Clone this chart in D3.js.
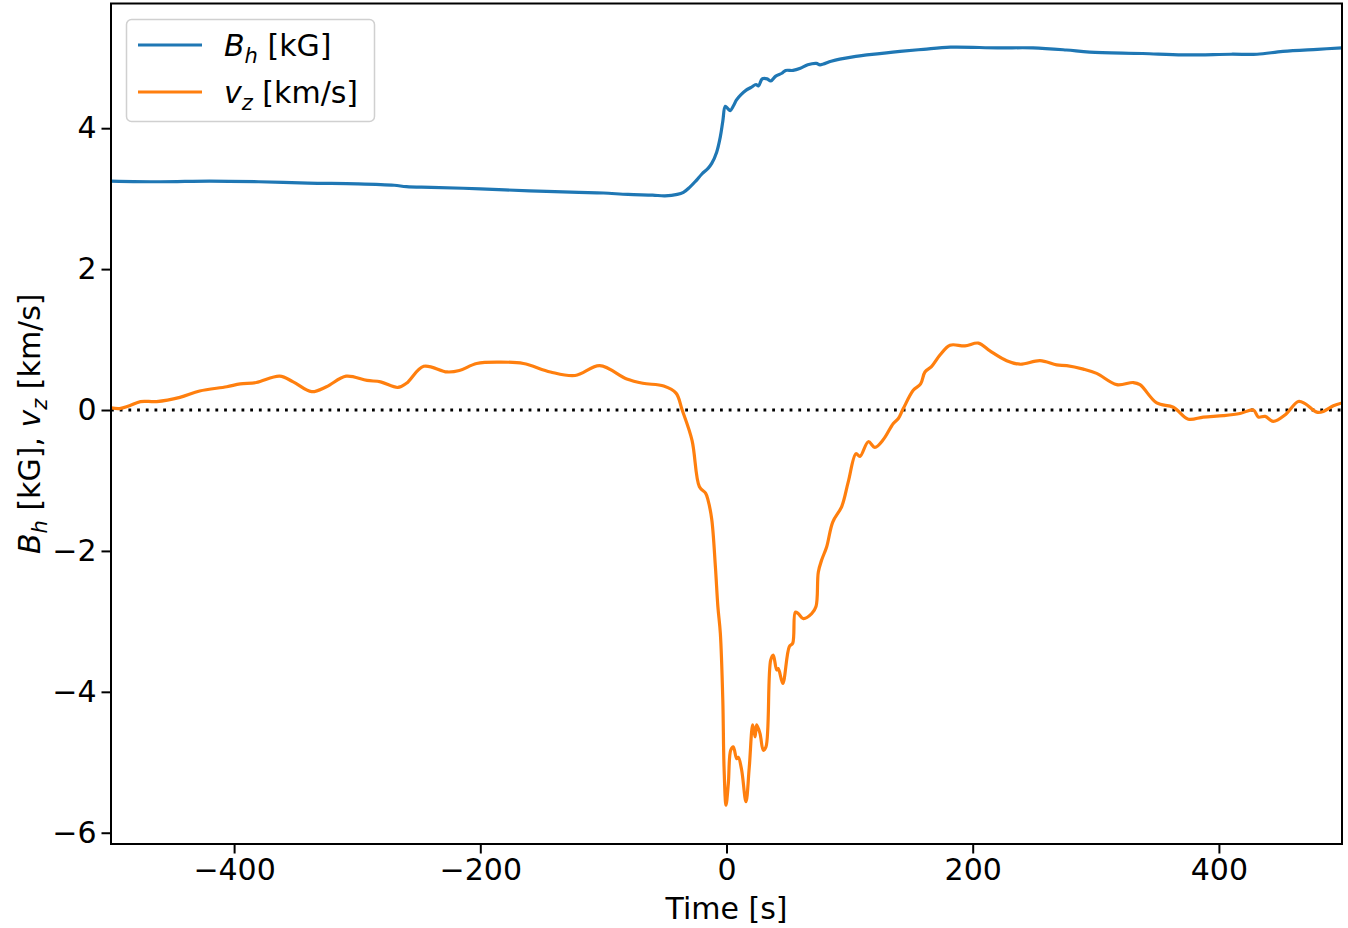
<!DOCTYPE html>
<html>
<head>
<meta charset="utf-8">
<script src="https://cdn.jsdelivr.net/npm/d3@7"></script>
<style>
  body { margin: 0; background: #fff; }
  svg { font-family: 'DejaVu Sans', sans-serif; }
</style>
</head>
<body>
<div id="chart"></div>
<script>
// DATA
var bhTime = [-500, -460, -420, -380, -340, -300, -270, -260, -240, -200, -160, -120, -100, -80, -60, -50,
	-40, -35, -30, -25, -20, -15, -12, -8, -5, -3, -1, 1, 3, 6, 8, 12, 16, 20, 24, 26, 29, 33, 36, 40,
	45, 48, 54, 60, 66, 73, 76, 85, 92, 105, 114, 130, 141, 160, 182, 220, 249, 276, 295, 338, 371,
	410, 431, 452, 480, 500];
var bhValue = [3.25, 3.24, 3.25, 3.24, 3.22, 3.21, 3.19, 3.17, 3.16, 3.14, 3.11, 3.09, 3.08, 3.06, 3.05, 3.04,
	3.06, 3.09, 3.16, 3.25, 3.35, 3.43, 3.50, 3.66, 3.88, 4.10, 4.31, 4.28, 4.25, 4.33, 4.40, 4.48, 4.54, 4.58, 4.62, 4.60, 4.70, 4.70, 4.67, 4.74,
	4.78, 4.82, 4.82, 4.85, 4.90, 4.92, 4.90, 4.95, 4.98, 5.02, 5.04, 5.07, 5.09, 5.12, 5.15, 5.14, 5.14, 5.11, 5.08, 5.06, 5.04,
	5.05, 5.05, 5.09, 5.12, 5.14];

var vzTime = [-500, -493, -485, -476, -463, -444, -428, -406, -395, -382, -363, -352, -337, -325, -309, -292,
	-281, -267, -260, -246, -227, -217, -203, -184, -165, -143, -123, -103, -81, -68, -51, -41, -36, -28,
	-22, -17, -15, -12, -9, -7, -5, -3, -2, -0.4, 1.5, 3.4, 5.5, 8.3, 9.6, 12.3, 15.8, 18.5, 21.3, 23.2,
	24.5, 27.2, 29.9, 32.1, 35.9, 38, 40.8, 42.1, 45.7, 51, 53.8, 55.9, 58.3, 62.4, 69.2, 72.7, 74.6,
	77.3, 81.4, 86.3, 93.6, 98.9, 105.2, 108.4, 115.2, 120.6, 127.4, 135.5, 139.6, 143.6, 151.7, 157.7,
	161.2, 166.7, 173.4, 181.6, 193.7, 204.6, 214, 227.6, 238.4, 254.7, 268.2, 276.4, 289.9, 300.7, 317,
	330.5, 335.9, 349.5, 363, 375.2, 387.3, 403.6, 417.1, 428, 432, 437.5, 444.2, 453.7, 464.5, 470,
	479.5, 484.9, 493, 500];
var vzValue = [0.03, 0.02, 0.06, 0.12, 0.12, 0.18, 0.27, 0.33, 0.37, 0.39, 0.48, 0.40, 0.26, 0.33, 0.48, 0.42,
	0.40, 0.32, 0.38, 0.62, 0.54, 0.56, 0.66, 0.68, 0.66, 0.54, 0.49, 0.63, 0.44, 0.38, 0.34, 0.24, 0.00, -0.43,
	-1.09, -1.18, -1.28, -1.55, -2.23, -2.79, -3.17, -4.12, -5.07, -5.61, -5.30, -4.83, -4.78, -4.95, -4.93, -5.11, -5.56, -5.07, -4.47, -4.64,
	-4.47, -4.59, -4.83, -4.78, -3.55, -3.48, -3.69, -3.67, -3.88, -3.36, -3.31, -2.87, -2.89, -2.96, -2.89, -2.79, -2.30,
	-2.13, -1.94, -1.59, -1.37, -1.02, -0.62, -0.66, -0.45, -0.53, -0.42, -0.19, -0.12, 0.02, 0.28, 0.37,
	0.54, 0.62, 0.78, 0.92, 0.91, 0.95, 0.84, 0.70, 0.65, 0.70, 0.64, 0.63, 0.58, 0.52, 0.36,
	0.39, 0.36, 0.10, 0.04, -0.13, -0.10, -0.08, -0.05, 0.00, -0.10, -0.09, -0.16, -0.07, 0.12, 0.09,
	-0.03, -0.02, 0.06, 0.10];

var xTicks = [-400, -200, 0, 200, 400];
var yTicks = [-6, -4, -2, 0, 2, 4];

// BOUNDS
var width = 1348, height = 928;
var margin = {top: 3.5, right: 6, bottom: 84, left: 111};
var innerWidth = width - margin.left - margin.right,
	innerHeight = height - margin.top - margin.bottom;

var blue = '#1f77b4', orange = '#ff7f0e';
var fontSize = 30, subSize = 21;

// SCALE
var xScale = d3.scaleLinear().domain([-500, 500]).range([0, innerWidth]);
var yScale = d3.scaleLinear().domain([-6.16, 5.77]).range([innerHeight, 0]);

var svg = d3.select('#chart')
	.append('svg')
	.attr('width', width)
	.attr('height', height);

var chart = svg.append('g')
	.attr('transform', 'translate(' + margin.left + ',' + margin.top + ')');

chart.append('clipPath').attr('id', 'plotclip')
	.append('rect').attr('width', innerWidth).attr('height', innerHeight);

// zero reference line
chart.append('line')
	.attr('x1', 0).attr('x2', innerWidth)
	.attr('y1', yScale(0)).attr('y2', yScale(0))
	.attr('stroke', '#000')
	.attr('stroke-width', 2.8)
	.attr('stroke-dasharray', '2.8 5.9');

var line = d3.line()
	.x(function(d) { return xScale(d[0]); })
	.y(function(d) { return yScale(d[1]); })
	.curve(d3.curveCatmullRom.alpha(0.5));

var bhData = bhTime.map(function(t, i) { return [t, bhValue[i]]; });
var vzData = vzTime.map(function(t, i) { return [t, vzValue[i]]; });

chart.append('path')
	.attr('d', line(bhData))
	.attr('fill', 'none')
	.attr('stroke', blue)
	.attr('stroke-width', 3.2)
	.attr('stroke-linejoin', 'round')
	.attr('clip-path', 'url(#plotclip)');

chart.append('path')
	.attr('d', line(vzData))
	.attr('fill', 'none')
	.attr('stroke', orange)
	.attr('stroke-width', 3.2)
	.attr('stroke-linejoin', 'round')
	.attr('clip-path', 'url(#plotclip)');

// AXES
var xAxis = d3.axisBottom(xScale).tickValues(xTicks).tickSize(9.5).tickPadding(5);
var yAxis = d3.axisLeft(yScale).tickValues(yTicks).tickSize(9.5).tickPadding(5);

var gx = chart.append('g')
	.attr('transform', 'translate(0,' + innerHeight + ')')
	.call(xAxis);
var gy = chart.append('g').call(yAxis);

[gx, gy].forEach(function(g) {
	g.select('.domain').remove();
	g.selectAll('.tick line').attr('stroke', '#000').attr('stroke-width', 2);
	g.selectAll('.tick text')
		.attr('fill', '#000')
		.style('font-family', "'DejaVu Sans', sans-serif")
		.style('font-size', fontSize + 'px');
});

// frame
chart.append('rect')
	.attr('width', innerWidth)
	.attr('height', innerHeight)
	.attr('fill', 'none')
	.attr('stroke', '#000')
	.attr('stroke-width', 2);

// axis labels
svg.append('text')
	.attr('x', margin.left + innerWidth / 2)
	.attr('y', 919)
	.attr('text-anchor', 'middle')
	.style('font-size', fontSize + 'px')
	.text('Time [s]');

var yl = svg.append('text')
	.attr('transform', 'translate(40,' + (margin.top + innerHeight / 2) + ') rotate(-90)')
	.attr('text-anchor', 'middle')
	.style('font-size', fontSize + 'px');
yl.append('tspan').attr('font-style', 'italic').text('B');
yl.append('tspan').attr('font-style', 'italic').attr('font-size', subSize + 'px').attr('dy', 7).text('h');
yl.append('tspan').attr('dy', -7).text(' [kG], ');
yl.append('tspan').attr('font-style', 'italic').text('v');
yl.append('tspan').attr('font-style', 'italic').attr('font-size', subSize + 'px').attr('dy', 7).text('z');
yl.append('tspan').attr('dy', -7).text(' [km/s]');

// LEGEND
var legend = svg.append('g');
legend.append('rect')
	.attr('x', 126.5).attr('y', 19.5)
	.attr('width', 248).attr('height', 102)
	.attr('rx', 5)
	.attr('fill', '#fff')
	.attr('stroke', '#d0d0d0')
	.attr('stroke-width', 1.5);

var items = [
	{color: blue, main: 'B', sub: 'h', unit: ' [kG]', y: 45},
	{color: orange, main: 'v', sub: 'z', unit: ' [km/s]', y: 92}
];
items.forEach(function(it) {
	legend.append('line')
		.attr('x1', 138).attr('x2', 202)
		.attr('y1', it.y).attr('y2', it.y)
		.attr('stroke', it.color).attr('stroke-width', 3.2);
	var t = legend.append('text')
		.attr('x', 224).attr('y', it.y + 11)
		.style('font-size', fontSize + 'px');
	t.append('tspan').attr('font-style', 'italic').text(it.main);
	t.append('tspan').attr('font-style', 'italic').attr('font-size', subSize + 'px').attr('dy', 7).text(it.sub);
	t.append('tspan').attr('dy', -7).text(it.unit);
});
</script>
</body>
</html>
